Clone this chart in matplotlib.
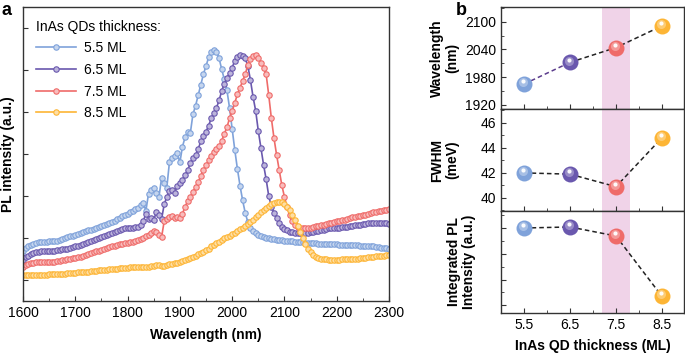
import numpy as np
import matplotlib
matplotlib.use("Agg")
import matplotlib.pyplot as plt
from matplotlib.ticker import MultipleLocator, NullFormatter
from matplotlib.transforms import offset_copy
from matplotlib.colors import to_rgb

plt.rcParams['font.family'] = ['Liberation Sans', 'DejaVu Sans']
plt.rcParams['font.size'] = 10

# ---------------- data: panel a ----------------
wavelength = np.arange(1600, 2301, 5)

pl_55 = [0.69,0.76,0.80,0.84,0.87,0.89,0.90,0.91,0.91,0.91,
         0.92,0.92,0.93,0.94,0.96,0.98,1.00,1.02,1.04,1.06,
         1.08,1.10,1.12,1.14,1.16,1.18,1.20,1.22,1.24,1.26,
         1.28,1.30,1.33,1.35,1.38,1.41,1.45,1.48,1.52,1.55,
         1.58,1.62,1.65,1.69,1.72,1.78,1.84,1.65,2.05,2.15,
         2.20,2.08,1.98,2.43,2.30,2.20,2.80,2.90,2.95,3.02,
         2.80,3.18,3.40,3.52,3.50,3.95,4.15,4.40,4.65,4.90,
         5.10,5.30,5.42,5.48,5.44,5.28,5.02,4.78,4.52,4.10,
         3.60,3.10,2.65,2.25,1.90,1.60,1.38,1.24,1.16,1.11,
         1.07,1.04,1.02,1.00,0.99,0.98,0.97,0.96,0.95,0.95,
         0.94,0.93,0.92,0.92,0.91,0.91,0.90,0.90,0.89,0.89,
         0.88,0.88,0.88,0.87,0.87,0.86,0.86,0.86,0.85,0.85,
         0.85,0.84,0.84,0.84,0.84,0.83,0.83,0.83,0.83,0.82,
         0.82,0.81,0.81,0.80,0.80,0.79,0.78,0.77,0.76,0.76,
         0.75]

pl_65 = [0.48,0.55,0.58,0.62,0.64,0.66,0.67,0.68,0.68,0.69,
         0.69,0.70,0.70,0.71,0.72,0.73,0.74,0.75,0.77,0.78,
         0.80,0.82,0.84,0.86,0.88,0.90,0.92,0.95,0.97,1.00,
         1.02,1.05,1.07,1.10,1.12,1.15,1.17,1.19,1.21,1.23,
         1.24,1.25,1.25,1.26,1.26,1.31,1.40,1.58,1.45,1.48,
         1.43,1.62,1.55,1.45,1.80,1.98,2.12,2.14,2.07,2.24,
         2.30,2.38,2.50,2.62,2.78,2.90,2.97,3.12,3.30,3.42,
         3.53,3.68,3.85,3.98,4.10,4.28,4.50,4.68,4.81,4.93,
         5.06,5.22,5.32,5.36,5.33,5.28,5.10,4.76,4.36,4.03,
         3.55,3.15,2.75,2.40,2.00,1.75,1.60,1.48,1.36,1.27,
         1.21,1.18,1.15,1.14,1.13,1.13,1.12,1.12,1.13,1.13,
         1.14,1.15,1.16,1.17,1.19,1.20,1.22,1.23,1.24,1.24,
         1.25,1.25,1.26,1.26,1.27,1.28,1.29,1.30,1.31,1.32,
         1.33,1.34,1.35,1.35,1.36,1.36,1.36,1.36,1.35,1.35,
         1.34]

pl_75 = [0.31,0.36,0.38,0.40,0.41,0.42,0.42,0.43,0.43,0.43,
         0.43,0.44,0.44,0.45,0.46,0.47,0.48,0.49,0.50,0.52,
         0.53,0.55,0.56,0.58,0.60,0.62,0.64,0.66,0.68,0.70,
         0.72,0.74,0.76,0.78,0.80,0.82,0.84,0.86,0.87,0.88,
         0.89,0.90,0.91,0.93,0.95,0.97,1.00,1.05,1.08,1.12,
         1.17,1.14,1.08,1.02,1.40,1.45,1.50,1.52,1.48,1.50,
         1.48,1.58,1.75,1.88,1.98,2.10,2.22,2.33,2.48,2.62,
         2.74,2.85,2.95,3.04,3.12,3.20,3.32,3.48,3.64,3.85,
         4.02,4.22,4.42,4.58,4.74,4.90,5.12,5.26,5.34,5.36,
         5.28,5.18,5.06,4.90,4.40,3.85,3.38,2.98,2.62,2.26,
         1.98,1.74,1.54,1.40,1.30,1.26,1.24,1.24,1.24,1.24,
         1.25,1.26,1.28,1.29,1.31,1.32,1.34,1.35,1.37,1.38,
         1.40,1.41,1.43,1.44,1.46,1.47,1.49,1.50,1.52,1.53,
         1.55,1.56,1.58,1.59,1.61,1.62,1.64,1.65,1.66,1.67,
         1.69]

pl_85 = [0.12,0.12,0.12,0.12,0.12,0.12,0.13,0.13,0.13,0.13,
         0.14,0.14,0.14,0.14,0.15,0.15,0.15,0.16,0.16,0.17,
         0.17,0.18,0.18,0.19,0.19,0.20,0.21,0.21,0.22,0.23,
         0.24,0.24,0.25,0.26,0.26,0.27,0.27,0.28,0.28,0.29,
         0.29,0.30,0.30,0.30,0.31,0.31,0.31,0.32,0.32,0.33,
         0.34,0.35,0.36,0.34,0.33,0.36,0.38,0.39,0.40,0.41,
         0.43,0.45,0.47,0.49,0.52,0.55,0.58,0.61,0.64,0.67,
         0.71,0.75,0.80,0.83,0.88,0.91,0.95,0.99,1.03,1.06,
         1.10,1.13,1.17,1.21,1.25,1.29,1.33,1.38,1.43,1.49,
         1.55,1.61,1.67,1.72,1.76,1.80,1.83,1.85,1.86,1.85,
         1.82,1.75,1.66,1.55,1.42,1.28,1.14,1.00,0.86,0.75,
         0.66,0.60,0.55,0.52,0.50,0.49,0.49,0.48,0.48,0.48,
         0.48,0.48,0.49,0.49,0.49,0.50,0.50,0.51,0.51,0.52,
         0.53,0.53,0.54,0.55,0.56,0.57,0.57,0.58,0.58,0.59,
         0.59]

series_labels = ['5.5 ML', '6.5 ML', '7.5 ML', '8.5 ML']
series_colors = ['#7FA2DA', '#6A58AE', '#EF6B69', '#FDB535']

# ---------------- data: panel b ----------------
thickness = [5.5, 6.5, 7.5, 8.5]
peak_wavelength = [1965, 2012, 2044, 2091]
fwhm = [42.0, 41.9, 40.9, 44.8]
integrated_pl = [3.00, 3.04, 2.69, 0.35]

# ---------------- figure ----------------
fig = plt.figure(figsize=(6.85, 3.55), dpi=100)

def lighten(c, f):
    r, g, b = to_rgb(c)
    return (r + (1 - r) * f, g + (1 - g) * f, b + (1 - b) * f)

spine_col = '#333333'

# panel a
axa = fig.add_axes([0.0336, 0.152, 0.5343, 0.828])
for ys, lab, col in zip([pl_55, pl_65, pl_75, pl_85], series_labels, series_colors):
    axa.plot(wavelength, ys, '-', color=col, lw=1.2, marker='o', ms=3.9,
             mfc=lighten(col, 0.55), mec=col, mew=0.8, label=lab)
axa.set_xlim(1600, 2300)
axa.set_ylim(-0.5, 6.5)
axa.xaxis.set_major_locator(MultipleLocator(100))
axa.xaxis.set_minor_locator(MultipleLocator(50))
axa.yaxis.set_major_locator(MultipleLocator(1))
axa.yaxis.set_major_formatter(NullFormatter())
axa.tick_params(direction='in', which='both', colors=spine_col, labelcolor='black',
                labelsize=10)
axa.tick_params(which='major', length=3.5)
axa.tick_params(which='minor', length=2)
for s in axa.spines.values():
    s.set_color(spine_col)
    s.set_linewidth(1.0)
axa.set_xlabel('Wavelength (nm)', fontweight='bold', fontsize=10, labelpad=6)
axa.set_ylabel('PL intensity (a.u.)', fontweight='bold', fontsize=10)
axa.yaxis.set_label_coords(-0.022, 0.5)
leg = axa.legend(loc='upper left', bbox_to_anchor=(0.0, 1.0), frameon=False,
                 title='InAs QDs thickness:', title_fontsize=10, fontsize=10,
                 handlelength=2.9, handletextpad=0.6, labelspacing=0.55,
                 borderaxespad=0.5, alignment='left')

# panel b
left_b = 501 / 685
width_b = (684 - 501) / 685
h = 102 / 355
axes_b = [fig.add_axes([left_b, (355 - 109) / 355, width_b, h]),
          fig.add_axes([left_b, (355 - 211) / 355, width_b, h]),
          fig.add_axes([left_b, (355 - 313) / 355, width_b, h])]
vals_b = [peak_wavelength, fwhm, integrated_pl]
ylims = [(1911, 2132), (38.96, 47.1), (-0.3, 3.66)]
majors = [60, 2, 1]
minors = [30, 1, 0.5]
ylabels = ['Wavelength\n(nm)', 'FWHM\n(meV)', 'Integrated PL\nIntensity (a.u.)']

for i, (ax, vals) in enumerate(zip(axes_b, vals_b)):
    ax.axvspan(7.2, 7.8, color='#F0D3E8', lw=0, zorder=0)
    if i == 0:
        ax.plot(thickness[:2], vals[:2], ls=(0, (3, 2)), color='#5B3C8C', lw=1.1, zorder=2)
        ax.plot(thickness[1:], vals[1:], ls=(0, (3, 2)), color='#222222', lw=1.1, zorder=2)
    else:
        ax.plot(thickness, vals, ls=(0, (3, 2)), color='#222222', lw=1.1, zorder=2)
    off1 = offset_copy(ax.transData, fig=fig, x=-1.0, y=1.8, units='dots')
    off2 = offset_copy(ax.transData, fig=fig, x=-1.0, y=2.8, units='dots')
    for xv, yv, col in zip(thickness, vals, series_colors):
        ax.plot([xv], [yv], 'o', ms=11.5, color=col, mec=col, mew=0, zorder=3)
        ax.plot([xv], [yv], 'o', ms=6.5, color=lighten(col, 0.35), mew=0,
                zorder=4, transform=off1, alpha=0.9)
        ax.plot([xv], [yv], 'o', ms=3, color='white', mew=0, zorder=5,
                transform=off2, alpha=0.95)
    ax.set_xlim(5.0, 8.98)
    ax.set_ylim(*ylims[i])
    ax.set_xticks(thickness)
    ax.set_xticks([6.0, 7.0, 8.0], minor=True)
    ax.yaxis.set_major_locator(MultipleLocator(majors[i]))
    ax.yaxis.set_minor_locator(MultipleLocator(minors[i]))
    ax.tick_params(direction='in', which='both', colors=spine_col, labelcolor='black',
                   labelsize=10)
    ax.tick_params(which='major', length=3.5)
    ax.tick_params(which='minor', length=2)
    for s in ax.spines.values():
        s.set_color(spine_col)
        s.set_linewidth(1.0)
    if i < 2:
        ax.xaxis.set_major_formatter(NullFormatter())
    else:
        ax.set_xticklabels(['5.5', '6.5', '7.5', '8.5'])
        ax.yaxis.set_major_formatter(NullFormatter())
        ax.set_xlabel('InAs QD thickness (ML)', fontweight='bold', fontsize=10, labelpad=5)
    ax.set_ylabel(ylabels[i], fontweight='bold', fontsize=10, linespacing=1.1)
    ax.yaxis.set_label_coords(-0.135 if i == 2 else -0.23, 0.5)

axes_b[0].set_yticks([1920, 1980, 2040, 2100])
axes_b[1].set_yticks([40, 42, 44, 46])

fig.text(2 / 685, 1 - 2 / 355, 'a', fontsize=13, fontweight='bold', va='top', ha='left')
fig.text(456 / 685, 1 - 2 / 355, 'b', fontsize=13, fontweight='bold', va='top', ha='left')

fig.savefig('out.png', dpi=100)
